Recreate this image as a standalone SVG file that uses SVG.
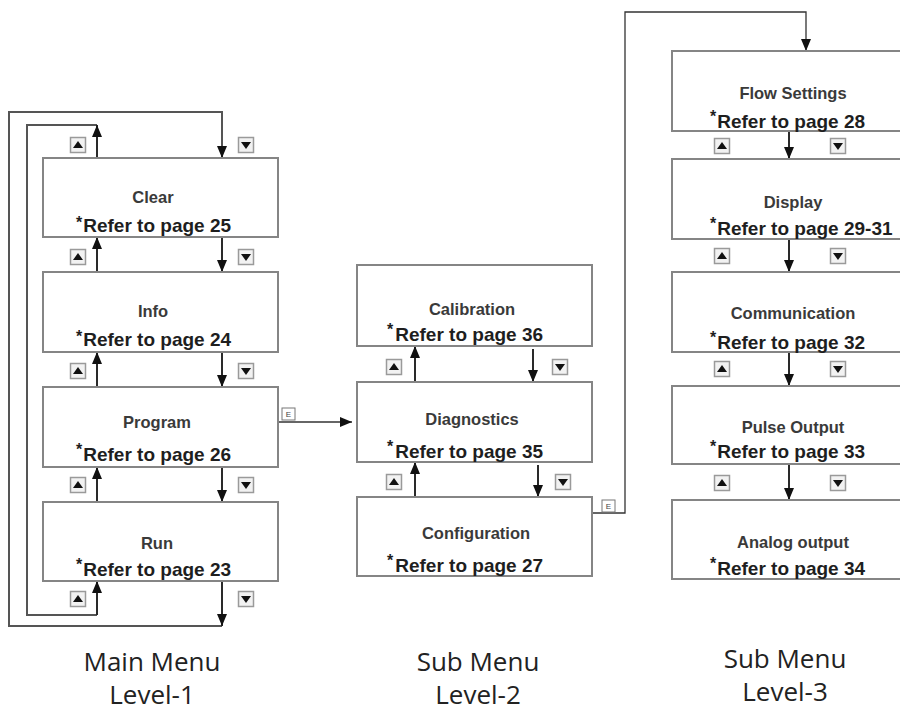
<svg xmlns="http://www.w3.org/2000/svg" xmlns:xlink="http://www.w3.org/1999/xlink" width="900" height="711" viewBox="0 0 900 711">
<style>
.box{fill:#fff;stroke:#858585;stroke-width:2}
.title{font-family:"Liberation Sans",Arial,sans-serif;font-size:16.5px;font-weight:bold;fill:#3a3a3a;text-anchor:middle}
.ref{font-family:"Liberation Sans",Arial,sans-serif;font-size:19px;font-weight:bold;fill:#1e1e1e}
.star{font-size:16px}
.arr{fill:none;stroke:#2a2a2a;stroke-width:2;marker-end:url(#ah)}
.loop{fill:none;stroke:#555;stroke-width:2}
.thin{fill:none;stroke:#333;stroke-width:1.3}
.lbl{font-family:"Open Sans","Liberation Sans",sans-serif;font-size:26px;fill:#222;text-anchor:middle}
.ebox{fill:#fff;stroke:#777;stroke-width:1}
.etxt{font-family:"Liberation Sans",Arial,sans-serif;font-size:8px;fill:#444;text-anchor:middle}
</style>
<defs>
<marker id="ah" markerUnits="userSpaceOnUse" viewBox="0 0 12 10" markerWidth="12" markerHeight="10" refX="12" refY="5" orient="auto">
<path d="M0,0 L12,5 L0,10 z" fill="#111"/>
</marker>
<g id="bu"><rect x="-7.5" y="-7.5" width="15" height="15" fill="#f2f2f2" stroke="#9a9a9a" stroke-width="1.5"/><path d="M-5,3 L5,3 L0,-4 z" fill="#111"/></g>
<g id="bd"><rect x="-7.5" y="-7.5" width="15" height="15" fill="#f2f2f2" stroke="#9a9a9a" stroke-width="1.5"/><path d="M-5,-3 L5,-3 L0,4 z" fill="#111"/></g>
</defs>
<rect width="900" height="711" fill="#fff"/>

<g id="connectors">
<path class="loop" d="M222,626 L9,626 L9,112 L222,112 L222,146"/>
<path class="arr" d="M222,146 L222,158"/>
<path class="arr" d="M222,581 L222,626"/>
<path class="loop" d="M97,125 L27,125 L27,615 L97,615"/>
<path class="arr" d="M97,158 L97,125"/>
<path class="arr" d="M97,615 L97,581"/>
<path class="arr" d="M222,237 L222,272"/>
<path class="arr" d="M97,272 L97,237"/>
<path class="arr" d="M222,352 L222,387"/>
<path class="arr" d="M97,387 L97,352"/>
<path class="arr" d="M222,467 L222,502"/>
<path class="arr" d="M97,502 L97,467"/>
<path class="thin" d="M278,422 L352,422" marker-end="url(#ah)"/>
<path class="arr" d="M533,349 L533,382"/>
<path class="arr" d="M415,382 L415,346"/>
<path class="arr" d="M538,465 L538,497"/>
<path class="arr" d="M415,497 L415,462"/>
<path class="thin" d="M592,513 L625,513 L625,12 L806,12 L806,51" marker-end="url(#ah)"/>
<path class="arr" d="M789,131 L789,159"/>
<path class="arr" d="M789,239 L789,272"/>
<path class="arr" d="M789,352 L789,386"/>
<path class="arr" d="M789,464 L789,500"/>
</g>

<g id="buttons">
<use xlink:href="#bu" x="78" y="145"/><use xlink:href="#bd" x="246" y="145"/>
<use xlink:href="#bu" x="78" y="257"/><use xlink:href="#bd" x="246" y="257"/>
<use xlink:href="#bu" x="78" y="371"/><use xlink:href="#bd" x="246" y="371"/>
<use xlink:href="#bu" x="78" y="485"/><use xlink:href="#bd" x="246" y="485"/>
<use xlink:href="#bu" x="78" y="599"/><use xlink:href="#bd" x="246" y="599"/>
<use xlink:href="#bu" x="394" y="367"/><use xlink:href="#bd" x="560" y="367"/>
<use xlink:href="#bu" x="394" y="482"/><use xlink:href="#bd" x="563" y="482"/>
<use xlink:href="#bu" x="722" y="146"/><use xlink:href="#bd" x="838" y="146"/>
<use xlink:href="#bu" x="722" y="256"/><use xlink:href="#bd" x="838" y="256"/>
<use xlink:href="#bu" x="722" y="369"/><use xlink:href="#bd" x="838" y="369"/>
<use xlink:href="#bu" x="722" y="483"/><use xlink:href="#bd" x="838" y="483"/>
<rect class="ebox" x="282" y="408" width="13" height="12"/><text class="etxt" x="288.5" y="417">E</text>
<rect class="ebox" x="602" y="500" width="13" height="12"/><text class="etxt" x="608.5" y="509">E</text>
</g>

<g id="n-clear"><rect class="box" x="43" y="158" width="235" height="79"/>
<text class="title" x="153" y="203">Clear</text>
<text class="ref" x="76" y="232"><tspan class="star" dy="-4">*</tspan><tspan dx="1" dy="4">Refer to page 25</tspan></text></g>
<g id="n-info"><rect class="box" x="43" y="272" width="235" height="80"/>
<text class="title" x="153" y="317">Info</text>
<text class="ref" x="76" y="346"><tspan class="star" dy="-4">*</tspan><tspan dx="1" dy="4">Refer to page 24</tspan></text></g>
<g id="n-program"><rect class="box" x="43" y="387" width="235" height="80"/>
<text class="title" x="157" y="428">Program</text>
<text class="ref" x="76" y="461"><tspan class="star" dy="-6">*</tspan><tspan dx="1" dy="6">Refer to page 26</tspan></text></g>
<g id="n-run"><rect class="box" x="43" y="502" width="235" height="79"/>
<text class="title" x="157" y="549">Run</text>
<text class="ref" x="76" y="576"><tspan class="star" dy="-6">*</tspan><tspan dx="1" dy="6">Refer to page 23</tspan></text></g>

<g id="n-calibration"><rect class="box" x="357" y="265" width="235" height="81"/>
<text class="title" x="472" y="315">Calibration</text>
<text class="ref" x="387" y="341"><tspan class="star" dy="-6">*</tspan><tspan dx="2" dy="6">Refer to page 36</tspan></text></g>
<g id="n-diagnostics"><rect class="box" x="357" y="382" width="235" height="80"/>
<text class="title" x="472" y="425">Diagnostics</text>
<text class="ref" x="387" y="458"><tspan class="star" dy="-6">*</tspan><tspan dx="2" dy="6">Refer to page 35</tspan></text></g>
<g id="n-configuration"><rect class="box" x="357" y="497" width="235" height="79"/>
<text class="title" x="476" y="539">Configuration</text>
<text class="ref" x="387" y="572"><tspan class="star" dy="-6">*</tspan><tspan dx="2" dy="6">Refer to page 27</tspan></text></g>

<g id="n-flow"><rect class="box" x="672" y="51" width="240" height="80"/>
<text class="title" x="793" y="99">Flow Settings</text>
<text class="ref" x="710" y="128"><tspan class="star" dy="-6">*</tspan><tspan dx="1" dy="6">Refer to page 28</tspan></text></g>
<g id="n-display"><rect class="box" x="672" y="159" width="240" height="80"/>
<text class="title" x="793" y="208">Display</text>
<text class="ref" x="710" y="235"><tspan class="star" dy="-6">*</tspan><tspan dx="1" dy="6">Refer to page 29-31</tspan></text></g>
<g id="n-communication"><rect class="box" x="672" y="272" width="240" height="80"/>
<text class="title" x="793" y="319">Communication</text>
<text class="ref" x="710" y="349"><tspan class="star" dy="-6">*</tspan><tspan dx="1" dy="6">Refer to page 32</tspan></text></g>
<g id="n-pulse"><rect class="box" x="672" y="386" width="240" height="78"/>
<text class="title" x="793" y="433">Pulse Output</text>
<text class="ref" x="710" y="458"><tspan class="star" dy="-6">*</tspan><tspan dx="1" dy="6">Refer to page 33</tspan></text></g>
<g id="n-analog"><rect class="box" x="672" y="500" width="240" height="79"/>
<text class="title" x="793" y="548">Analog output</text>
<text class="ref" x="710" y="575"><tspan class="star" dy="-6">*</tspan><tspan dx="1" dy="6">Refer to page 34</tspan></text></g>

<g id="labels">
<text class="lbl" x="152" y="671">Main Menu</text>
<text class="lbl" x="152" y="704">Level-1</text>
<text class="lbl" x="478" y="671">Sub Menu</text>
<text class="lbl" x="478" y="704">Level-2</text>
<text class="lbl" x="785" y="668">Sub Menu</text>
<text class="lbl" x="785" y="701">Level-3</text>
</g>
</svg>
